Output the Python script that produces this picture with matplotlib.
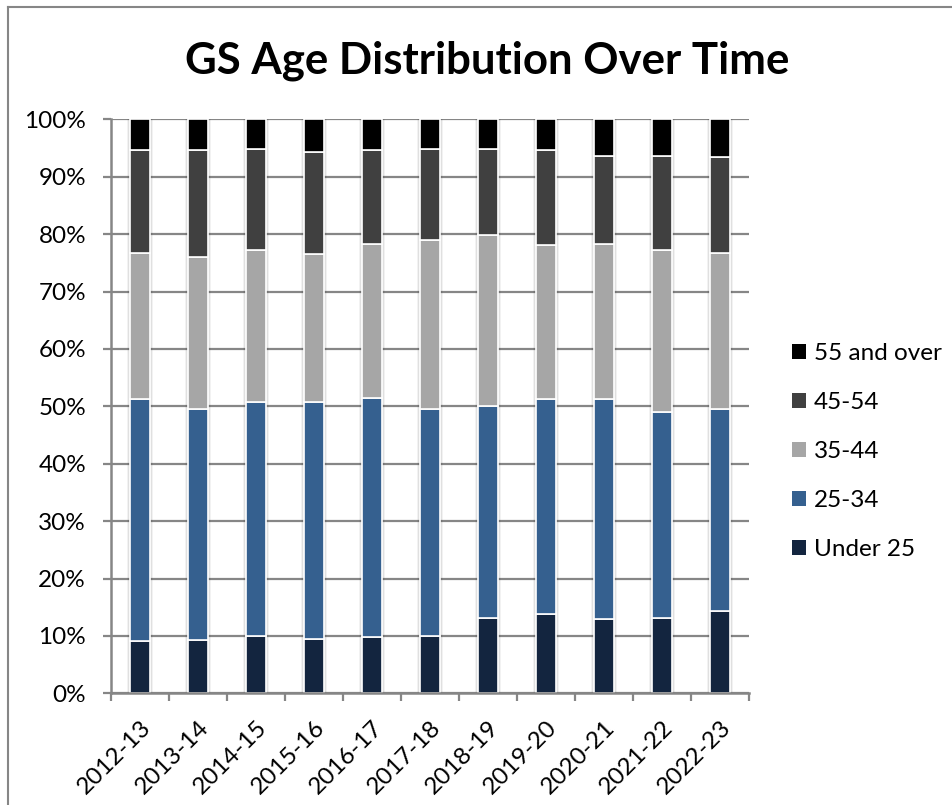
import matplotlib

matplotlib.use("Agg")
import matplotlib.pyplot as plt
import numpy as np
from matplotlib.lines import Line2D
from matplotlib.patches import Patch
from matplotlib.ticker import FuncFormatter, MultipleLocator


YEARS = [
    "2012-13", "2013-14", "2014-15", "2015-16", "2016-17", "2017-18",
    "2018-19", "2019-20", "2020-21", "2021-22", "2022-23",
]

# shares in percent
UNDER_25 = [9.1, 9.3, 10.0, 9.5, 9.8, 9.9, 13.2, 13.9, 13.0, 13.2, 14.3]
AGE_25_34 = [42.2, 40.3, 40.7, 41.2, 41.6, 39.6, 36.9, 37.4, 38.3, 35.9, 35.2]
AGE_35_44 = [25.4, 26.4, 26.6, 25.9, 26.9, 29.5, 29.8, 26.8, 27.0, 28.2, 27.3]
AGE_45_54 = [17.9, 18.6, 17.6, 17.8, 16.4, 15.9, 15.0, 16.5, 15.4, 16.3, 16.6]
AGE_55_UP = [5.4, 5.4, 5.1, 5.6, 5.3, 5.1, 5.1, 5.4, 6.3, 6.4, 6.6]

SERIES = [
    ("Under 25", UNDER_25, "#13253f"),
    ("25-34", AGE_25_34, "#35608f"),
    ("35-44", AGE_35_44, "#a6a6a6"),
    ("45-54", AGE_45_54, "#404040"),
    ("55 and over", AGE_55_UP, "#000000"),
]

FONT = "Lato"
GRID_GREY = "#868686"
LABEL_SIZE = 17.5
BAR_WIDTH = 0.36


def main() -> None:
    plt.rcParams["font.family"] = [FONT, "DejaVu Sans"]

    fig = plt.figure(figsize=(9.53, 8.05), dpi=100)
    ax = fig.add_axes([0.1165, 0.1388, 0.6695, 0.7128])

    x = np.arange(len(YEARS))
    bottom = np.zeros(len(YEARS))
    handles = []
    for label, values, color in SERIES:
        values = np.array(values)
        ax.bar(
            x, values, width=BAR_WIDTH, bottom=bottom, color=color,
            edgecolor="white", linewidth=1.2, zorder=3,
        )
        bottom += values
        handles.append(Patch(facecolor=color, edgecolor="none", label=label))

    # soft shadow behind each stacked column, like the Excel bar effect
    for extra, alpha in ((0.10, 0.05), (0.06, 0.07)):
        ax.bar(x, bottom, width=BAR_WIDTH + extra, color="black",
               alpha=alpha, linewidth=0, zorder=2.5)

    ax.set_xlim(-0.5, len(YEARS) - 0.5)
    ax.set_ylim(0, 100)
    ax.yaxis.set_major_locator(MultipleLocator(10))
    ax.yaxis.set_major_formatter(FuncFormatter(lambda v, _: f"{v:.0f}%"))
    ax.grid(axis="y", color=GRID_GREY, linewidth=1.6, zorder=0)

    ax.set_xticks(x)
    ax.set_xticklabels(YEARS, rotation=45, ha="right", rotation_mode="anchor")
    ax.set_xticks(np.arange(len(YEARS) + 1) - 0.5, minor=True)
    ax.tick_params(axis="x", which="major", length=0, pad=17,
                   labelsize=LABEL_SIZE)
    ax.tick_params(axis="x", which="minor", length=6, width=1.6,
                   color=GRID_GREY, direction="out")
    ax.tick_params(axis="y", length=6, width=1.6, color=GRID_GREY,
                   pad=12, labelsize=LABEL_SIZE)

    for side in ("top", "right"):
        ax.spines[side].set_visible(False)
    for side in ("left", "bottom"):
        ax.spines[side].set_color(GRID_GREY)
        ax.spines[side].set_linewidth(1.8)
        ax.spines[side].set_zorder(4)

    fig.text(0.511, 0.925, "GS Age Distribution Over Time",
             ha="center", va="center", fontsize=31.5, fontweight="bold")

    fig.legend(
        handles=handles[::-1], loc="center left",
        bbox_to_anchor=(0.8185, 0.439), frameon=False,
        fontsize=LABEL_SIZE, handlelength=0.55, handleheight=0.55,
        handletextpad=0.35, labelspacing=1.15, borderpad=0,
    )

    # chart border (Excel chart area outline, cut off at right and bottom)
    fig.add_artist(Line2D([8.5 / 953, 8.5 / 953], [0, 1 - 7.5 / 805],
                          transform=fig.transFigure, color=GRID_GREY, lw=1.5))
    fig.add_artist(Line2D([8.5 / 953, 1], [1 - 7.5 / 805, 1 - 7.5 / 805],
                          transform=fig.transFigure, color=GRID_GREY, lw=1.5))

    fig.savefig("out.png", dpi=100)


if __name__ == "__main__":
    main()
